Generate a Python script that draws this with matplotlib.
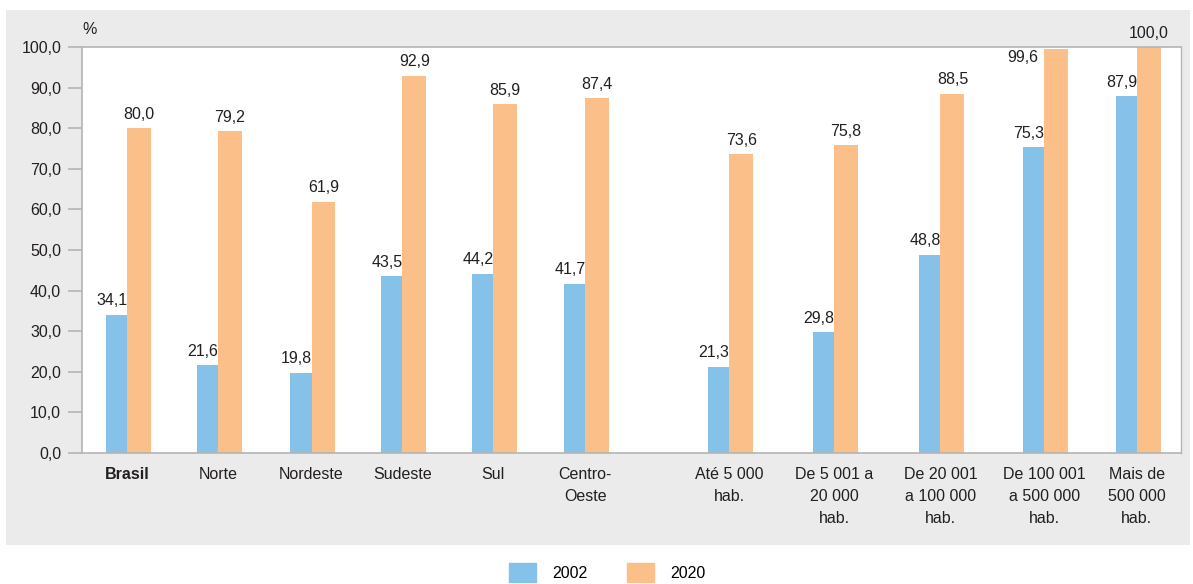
import numpy as np
import matplotlib
matplotlib.use("Agg")
import matplotlib.pyplot as plt
from matplotlib.patches import Rectangle, Patch

categories = ["Brasil", "Norte", "Nordeste", "Sudeste", "Sul", "Centro-\nOeste",
              "Até 5 000\nhab.", "De 5 001 a\n20 000\nhab.", "De 20 001\na 100 000\nhab.",
              "De 100 001\na 500 000\nhab.", "Mais de\n500 000\nhab."]
v2002 = [34.1, 21.6, 19.8, 43.5, 44.2, 41.7, 21.3, 29.8, 48.8, 75.3, 87.9]
v2020 = [80.0, 79.2, 61.9, 92.9, 85.9, 87.4, 73.6, 75.8, 88.5, 99.6, 100.0]
yticks = np.arange(0, 101, 10)

blue = "#85c1e9"
orange = "#fbc08a"
panel = "#ebebeb"
spine = "#b4b4b4"
txt = "#231f20"

plt.rcParams["font.family"] = ["Liberation Sans", "DejaVu Sans"]

# group positions: regions, then a gap, then city sizes
x = np.array([0, 0.99, 2.01, 3.0, 3.99, 4.99, 6.56, 7.70, 8.86, 9.99, 11.0])
wb, wo = 0.23, 0.26

fig = plt.figure(figsize=(11.93, 5.84), dpi=100)
fig.add_artist(Rectangle((6 / 1193, 39 / 584), 1184 / 1193, 535 / 584,
                         transform=fig.transFigure, facecolor=panel,
                         edgecolor="none", zorder=-5))
ax = fig.add_axes([82 / 1193, 131 / 584, 1099 / 1193, 406 / 584])
ax.set_facecolor("white")

ax.bar(x, v2002, -wb, align="edge", color=blue, zorder=2)
ax.bar(x, v2020, wo, align="edge", color=orange, zorder=2)

fmt = lambda v: f"{v:.1f}".replace(".", ",")
fs = 11.5
for i, (a, b) in enumerate(zip(v2002, v2020)):
    ax.text(x[i] - wb / 2 - 0.05, a + 1.6, fmt(a), ha="center", va="bottom",
            fontsize=fs, color=txt, clip_on=False)
    if 99.5 <= b < 100:
        # label would collide with the frame, so it sits beside the bar
        ax.text(x[i] - wb / 2 - 0.12, 97.5, fmt(b), ha="center", va="center",
                fontsize=fs, color=txt)
    else:
        ax.text(x[i] + wo / 2, b + 1.6, fmt(b), ha="center", va="bottom",
                fontsize=fs, color=txt, clip_on=False)

ax.set_xlim(-0.49, 11.48)
ax.set_ylim(0, 100)
ax.set_yticks(yticks)
ax.set_yticklabels([fmt(v) for v in yticks], fontsize=fs, color=txt)
ax.set_xticks(x)
ax.set_xticklabels(categories, fontsize=fs, color=txt, linespacing=1.58, va="top")
ax.get_xticklabels()[0].set_fontweight("bold")
ax.tick_params(axis="x", length=0, pad=10)
ax.tick_params(axis="y", length=10, width=1.2, color=spine, pad=5)
for s in ax.spines.values():
    s.set_color(spine)
    s.set_linewidth(1.2)
ax.spines["right"].set_linewidth(1.0)

fig.text(82 / 1193, 1 - 30 / 584, "%", fontsize=fs, color=txt, va="center")

handles = [Patch(color=blue, label="2002"), Patch(color=orange, label="2020")]
fig.legend(handles=handles, loc="center", bbox_to_anchor=(0.509, 0.02), ncol=2,
           frameon=False, fontsize=fs, handlelength=1.7, handleheight=1.4,
           handletextpad=1.0, columnspacing=2.5, borderpad=0)

fig.savefig("out.png", dpi=100)
